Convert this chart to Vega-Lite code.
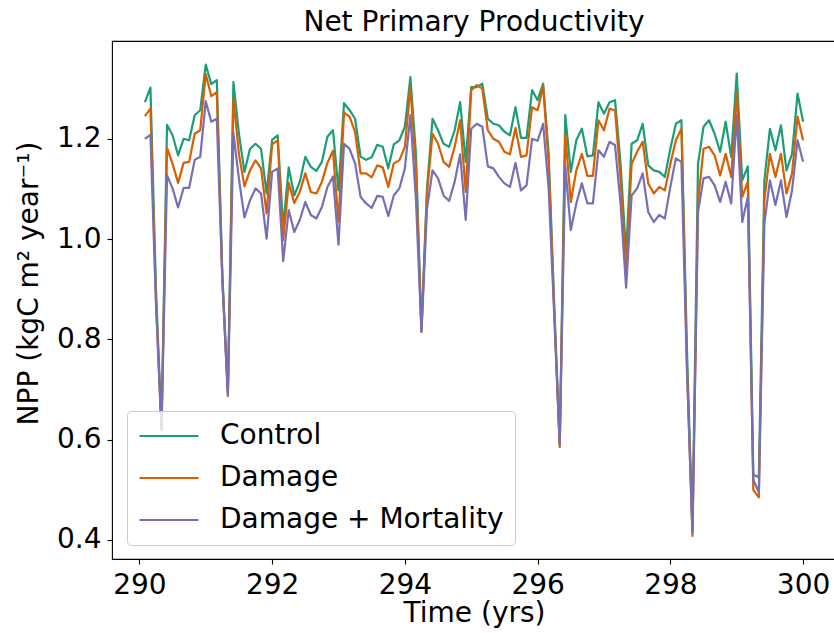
{
  "$schema": "https://vega.github.io/schema/vega-lite/v6.json",
  "width": 724,
  "height": 518,
  "autosize": {"type": "none"},
  "padding": {"left": 112, "top": 41, "right": 0, "bottom": 74},
  "background": "white",
  "title": {
    "text": "Net Primary Productivity",
    "fontSize": 28,
    "font": "DejaVu Sans",
    "fontWeight": "normal",
    "color": "black",
    "anchor": "middle",
    "offset": 4
  },
  "data": {
    "values": [
      {"t": 290.0833, "Control": 1.273, "Damage": 1.245, "Damage + Mortality": 1.200},
      {"t": 290.1667, "Control": 1.302, "Damage": 1.260, "Damage + Mortality": 1.208},
      {"t": 290.25, "Control": 0.90, "Damage": 0.88, "Damage + Mortality": 0.87},
      {"t": 290.3333, "Control": 0.625, "Damage": 0.62, "Damage + Mortality": 0.62},
      {"t": 290.4167, "Control": 1.228, "Damage": 1.182, "Damage + Mortality": 1.127},
      {"t": 290.5, "Control": 1.207, "Damage": 1.150, "Damage + Mortality": 1.101},
      {"t": 290.5833, "Control": 1.167, "Damage": 1.112, "Damage + Mortality": 1.063},
      {"t": 290.6667, "Control": 1.200, "Damage": 1.152, "Damage + Mortality": 1.102},
      {"t": 290.75, "Control": 1.197, "Damage": 1.154, "Damage + Mortality": 1.102},
      {"t": 290.8333, "Control": 1.247, "Damage": 1.210, "Damage + Mortality": 1.158},
      {"t": 290.9167, "Control": 1.257, "Damage": 1.217, "Damage + Mortality": 1.164},
      {"t": 291.0, "Control": 1.348, "Damage": 1.329, "Damage + Mortality": 1.275},
      {"t": 291.0833, "Control": 1.309, "Damage": 1.285, "Damage + Mortality": 1.234},
      {"t": 291.1667, "Control": 1.317, "Damage": 1.293, "Damage + Mortality": 1.240},
      {"t": 291.25, "Control": 0.93, "Damage": 0.92, "Damage + Mortality": 0.92},
      {"t": 291.3333, "Control": 0.695, "Damage": 0.687, "Damage + Mortality": 0.69},
      {"t": 291.4167, "Control": 1.313, "Damage": 1.280, "Damage + Mortality": 1.212},
      {"t": 291.5, "Control": 1.21, "Damage": 1.17, "Damage + Mortality": 1.12},
      {"t": 291.5833, "Control": 1.134, "Damage": 1.105, "Damage + Mortality": 1.043},
      {"t": 291.6667, "Control": 1.180, "Damage": 1.137, "Damage + Mortality": 1.077},
      {"t": 291.75, "Control": 1.190, "Damage": 1.157, "Damage + Mortality": 1.101},
      {"t": 291.8333, "Control": 1.180, "Damage": 1.141, "Damage + Mortality": 1.091},
      {"t": 291.9167, "Control": 1.091, "Damage": 1.051, "Damage + Mortality": 1.001},
      {"t": 292.0, "Control": 1.198, "Damage": 1.189, "Damage + Mortality": 1.134},
      {"t": 292.0833, "Control": 1.207, "Damage": 1.197, "Damage + Mortality": 1.141},
      {"t": 292.1667, "Control": 1.024, "Damage": 0.998, "Damage + Mortality": 0.956},
      {"t": 292.25, "Control": 1.143, "Damage": 1.112, "Damage + Mortality": 1.058},
      {"t": 292.3333, "Control": 1.087, "Damage": 1.072, "Damage + Mortality": 1.014},
      {"t": 292.4167, "Control": 1.114, "Damage": 1.094, "Damage + Mortality": 1.038},
      {"t": 292.5, "Control": 1.164, "Damage": 1.131, "Damage + Mortality": 1.074},
      {"t": 292.5833, "Control": 1.144, "Damage": 1.094, "Damage + Mortality": 1.048},
      {"t": 292.6667, "Control": 1.136, "Damage": 1.091, "Damage + Mortality": 1.041},
      {"t": 292.75, "Control": 1.154, "Damage": 1.114, "Damage + Mortality": 1.064},
      {"t": 292.8333, "Control": 1.204, "Damage": 1.152, "Damage + Mortality": 1.104},
      {"t": 292.9167, "Control": 1.217, "Damage": 1.176, "Damage + Mortality": 1.125},
      {"t": 293.0, "Control": 1.097, "Damage": 1.034, "Damage + Mortality": 0.989},
      {"t": 293.0833, "Control": 1.271, "Damage": 1.252, "Damage + Mortality": 1.190},
      {"t": 293.1667, "Control": 1.257, "Damage": 1.244, "Damage + Mortality": 1.180},
      {"t": 293.25, "Control": 1.240, "Damage": 1.214, "Damage + Mortality": 1.151},
      {"t": 293.3333, "Control": 1.164, "Damage": 1.131, "Damage + Mortality": 1.084},
      {"t": 293.4167, "Control": 1.158, "Damage": 1.131, "Damage + Mortality": 1.071},
      {"t": 293.5, "Control": 1.163, "Damage": 1.123, "Damage + Mortality": 1.062},
      {"t": 293.5833, "Control": 1.188, "Damage": 1.147, "Damage + Mortality": 1.086},
      {"t": 293.6667, "Control": 1.184, "Damage": 1.143, "Damage + Mortality": 1.084},
      {"t": 293.75, "Control": 1.141, "Damage": 1.104, "Damage + Mortality": 1.046},
      {"t": 293.8333, "Control": 1.189, "Damage": 1.151, "Damage + Mortality": 1.087},
      {"t": 293.9167, "Control": 1.197, "Damage": 1.157, "Damage + Mortality": 1.101},
      {"t": 294.0, "Control": 1.224, "Damage": 1.184, "Damage + Mortality": 1.141},
      {"t": 294.0833, "Control": 1.323, "Damage": 1.303, "Damage + Mortality": 1.247},
      {"t": 294.1667, "Control": 1.17, "Damage": 1.14, "Damage + Mortality": 1.08},
      {"t": 294.25, "Control": 0.82, "Damage": 0.815, "Damage + Mortality": 0.815},
      {"t": 294.3333, "Control": 1.10, "Damage": 1.09, "Damage + Mortality": 1.06},
      {"t": 294.4167, "Control": 1.240, "Damage": 1.210, "Damage + Mortality": 1.137},
      {"t": 294.5, "Control": 1.217, "Damage": 1.190, "Damage + Mortality": 1.121},
      {"t": 294.5833, "Control": 1.190, "Damage": 1.154, "Damage + Mortality": 1.087},
      {"t": 294.6667, "Control": 1.184, "Damage": 1.144, "Damage + Mortality": 1.076},
      {"t": 294.75, "Control": 1.217, "Damage": 1.184, "Damage + Mortality": 1.114},
      {"t": 294.8333, "Control": 1.273, "Damage": 1.237, "Damage + Mortality": 1.169},
      {"t": 294.9167, "Control": 1.154, "Damage": 1.094, "Damage + Mortality": 1.038},
      {"t": 295.0, "Control": 1.303, "Damage": 1.297, "Damage + Mortality": 1.220},
      {"t": 295.0833, "Control": 1.303, "Damage": 1.307, "Damage + Mortality": 1.230},
      {"t": 295.1667, "Control": 1.310, "Damage": 1.300, "Damage + Mortality": 1.224},
      {"t": 295.25, "Control": 1.240, "Damage": 1.217, "Damage + Mortality": 1.145},
      {"t": 295.3333, "Control": 1.230, "Damage": 1.200, "Damage + Mortality": 1.141},
      {"t": 295.4167, "Control": 1.227, "Damage": 1.194, "Damage + Mortality": 1.124},
      {"t": 295.5, "Control": 1.214, "Damage": 1.174, "Damage + Mortality": 1.111},
      {"t": 295.5833, "Control": 1.207, "Damage": 1.169, "Damage + Mortality": 1.104},
      {"t": 295.6667, "Control": 1.263, "Damage": 1.222, "Damage + Mortality": 1.152},
      {"t": 295.75, "Control": 1.202, "Damage": 1.164, "Damage + Mortality": 1.097},
      {"t": 295.8333, "Control": 1.202, "Damage": 1.167, "Damage + Mortality": 1.107},
      {"t": 295.9167, "Control": 1.297, "Damage": 1.263, "Damage + Mortality": 1.200},
      {"t": 296.0, "Control": 1.277, "Damage": 1.257, "Damage + Mortality": 1.196},
      {"t": 296.0833, "Control": 1.310, "Damage": 1.305, "Damage + Mortality": 1.230},
      {"t": 296.1667, "Control": 1.17, "Damage": 1.15, "Damage + Mortality": 1.10},
      {"t": 296.25, "Control": 0.87, "Damage": 0.86, "Damage + Mortality": 0.85},
      {"t": 296.3333, "Control": 0.59, "Damage": 0.585, "Damage + Mortality": 0.59},
      {"t": 296.4167, "Control": 1.247, "Damage": 1.210, "Damage + Mortality": 1.147},
      {"t": 296.5, "Control": 1.134, "Damage": 1.074, "Damage + Mortality": 1.018},
      {"t": 296.5833, "Control": 1.197, "Damage": 1.137, "Damage + Mortality": 1.071},
      {"t": 296.6667, "Control": 1.220, "Damage": 1.170, "Damage + Mortality": 1.111},
      {"t": 296.75, "Control": 1.165, "Damage": 1.126, "Damage + Mortality": 1.071},
      {"t": 296.8333, "Control": 1.167, "Damage": 1.126, "Damage + Mortality": 1.071},
      {"t": 296.9167, "Control": 1.273, "Damage": 1.237, "Damage + Mortality": 1.177},
      {"t": 297.0, "Control": 1.250, "Damage": 1.217, "Damage + Mortality": 1.164},
      {"t": 297.0833, "Control": 1.273, "Damage": 1.260, "Damage + Mortality": 1.194},
      {"t": 297.1667, "Control": 1.277, "Damage": 1.257, "Damage + Mortality": 1.187},
      {"t": 297.25, "Control": 1.15, "Damage": 1.12, "Damage + Mortality": 1.07},
      {"t": 297.3333, "Control": 0.97, "Damage": 0.94, "Damage + Mortality": 0.903},
      {"t": 297.4167, "Control": 1.190, "Damage": 1.150, "Damage + Mortality": 1.087},
      {"t": 297.5, "Control": 1.197, "Damage": 1.174, "Damage + Mortality": 1.101},
      {"t": 297.5833, "Control": 1.230, "Damage": 1.194, "Damage + Mortality": 1.131},
      {"t": 297.6667, "Control": 1.147, "Damage": 1.111, "Damage + Mortality": 1.054},
      {"t": 297.75, "Control": 1.137, "Damage": 1.091, "Damage + Mortality": 1.034},
      {"t": 297.8333, "Control": 1.134, "Damage": 1.104, "Damage + Mortality": 1.048},
      {"t": 297.9167, "Control": 1.124, "Damage": 1.097, "Damage + Mortality": 1.041},
      {"t": 298.0, "Control": 1.18, "Damage": 1.15, "Damage + Mortality": 1.104},
      {"t": 298.0833, "Control": 1.230, "Damage": 1.197, "Damage + Mortality": 1.161},
      {"t": 298.1667, "Control": 1.237, "Damage": 1.220, "Damage + Mortality": 1.154},
      {"t": 298.25, "Control": 0.78, "Damage": 0.75, "Damage + Mortality": 0.74},
      {"t": 298.3333, "Control": 0.42, "Damage": 0.408, "Damage + Mortality": 0.415},
      {"t": 298.4167, "Control": 1.150, "Damage": 1.074, "Damage + Mortality": 1.054},
      {"t": 298.5, "Control": 1.224, "Damage": 1.180, "Damage + Mortality": 1.121},
      {"t": 298.5833, "Control": 1.237, "Damage": 1.184, "Damage + Mortality": 1.124},
      {"t": 298.6667, "Control": 1.210, "Damage": 1.167, "Damage + Mortality": 1.107},
      {"t": 298.75, "Control": 1.174, "Damage": 1.127, "Damage + Mortality": 1.074},
      {"t": 298.8333, "Control": 1.234, "Damage": 1.170, "Damage + Mortality": 1.114},
      {"t": 298.9167, "Control": 1.164, "Damage": 1.124, "Damage + Mortality": 1.071},
      {"t": 299.0, "Control": 1.330, "Damage": 1.293, "Damage + Mortality": 1.247},
      {"t": 299.0833, "Control": 1.117, "Damage": 1.084, "Damage + Mortality": 1.034},
      {"t": 299.1667, "Control": 1.145, "Damage": 1.114, "Damage + Mortality": 1.084},
      {"t": 299.25, "Control": 0.53, "Damage": 0.50, "Damage + Mortality": 0.52},
      {"t": 299.3333, "Control": 0.525, "Damage": 0.485, "Damage + Mortality": 0.495},
      {"t": 299.4167, "Control": 1.117, "Damage": 1.078, "Damage + Mortality": 1.031},
      {"t": 299.5, "Control": 1.220, "Damage": 1.170, "Damage + Mortality": 1.117},
      {"t": 299.5833, "Control": 1.177, "Damage": 1.124, "Damage + Mortality": 1.068},
      {"t": 299.6667, "Control": 1.227, "Damage": 1.170, "Damage + Mortality": 1.117},
      {"t": 299.75, "Control": 1.137, "Damage": 1.091, "Damage + Mortality": 1.044},
      {"t": 299.8333, "Control": 1.170, "Damage": 1.131, "Damage + Mortality": 1.097},
      {"t": 299.9167, "Control": 1.290, "Damage": 1.244, "Damage + Mortality": 1.197},
      {"t": 300.0, "Control": 1.234, "Damage": 1.197, "Damage + Mortality": 1.154}
    ]
  },
  "transform": [
    {"fold": ["Control", "Damage", "Damage + Mortality"], "as": ["series", "npp"]}
  ],
  "mark": {"type": "line", "strokeWidth": 2.2, "strokeJoin": "round"},
  "encoding": {
    "x": {
      "field": "t",
      "type": "quantitative",
      "scale": {"domain": [289.5875, 300.4958], "nice": false, "zero": false},
      "axis": {
        "values": [290, 292, 294, 296, 298, 300],
        "format": "d",
        "title": "Time (yrs)",
        "titleBaseline": "alphabetic",
        "titleY": 62
      }
    },
    "y": {
      "field": "npp",
      "type": "quantitative",
      "scale": {"domain": [0.362, 1.395], "nice": false, "zero": false},
      "axis": {
        "values": [0.4, 0.6, 0.8, 1.0, 1.2],
        "format": ".1f",
        "title": "NPP (kgC m² year⁻¹)",
        "titleBaseline": "alphabetic",
        "titleX": -75,
        "titleY": 242
      }
    },
    "color": {
      "field": "series",
      "type": "nominal",
      "scale": {
        "domain": ["Control", "Damage", "Damage + Mortality"],
        "range": ["#1b9e77", "#d95f02", "#7570b3"]
      },
      "legend": {
        "title": null,
        "orient": "none",
        "legendX": 15,
        "legendY": 370,
        "symbolType": "M-1,0H3.72",
        "symbolSize": 625,
        "symbolStrokeWidth": 2.2,
        "symbolOffset": 0,
        "labelOffset": 54,
        "labelFontSize": 28,
        "labelFont": "DejaVu Sans",
        "labelColor": "black",
        "labelLimit": 400,
        "rowPadding": 14,
        "padding": 11,
        "fillColor": "rgba(255,255,255,0.8)",
        "strokeColor": "#cccccc",
        "cornerRadius": 4
      }
    }
  },
  "config": {
    "font": "DejaVu Sans",
    "view": {"stroke": "black", "strokeWidth": 1.1},
    "axis": {
      "grid": false,
      "domain": false,
      "ticks": true,
      "tickColor": "black",
      "tickSize": 5,
      "tickWidth": 1.1,
      "labelFont": "DejaVu Sans",
      "labelFontSize": 28,
      "labelColor": "black",
      "labelFlush": false,
      "labelOverlap": false,
      "titleFont": "DejaVu Sans",
      "titleFontSize": 28,
      "titleFontWeight": "normal",
      "titleColor": "black"
    },
    "axisX": {"labelPadding": 7},
    "axisY": {"labelPadding": 6}
  }
}
